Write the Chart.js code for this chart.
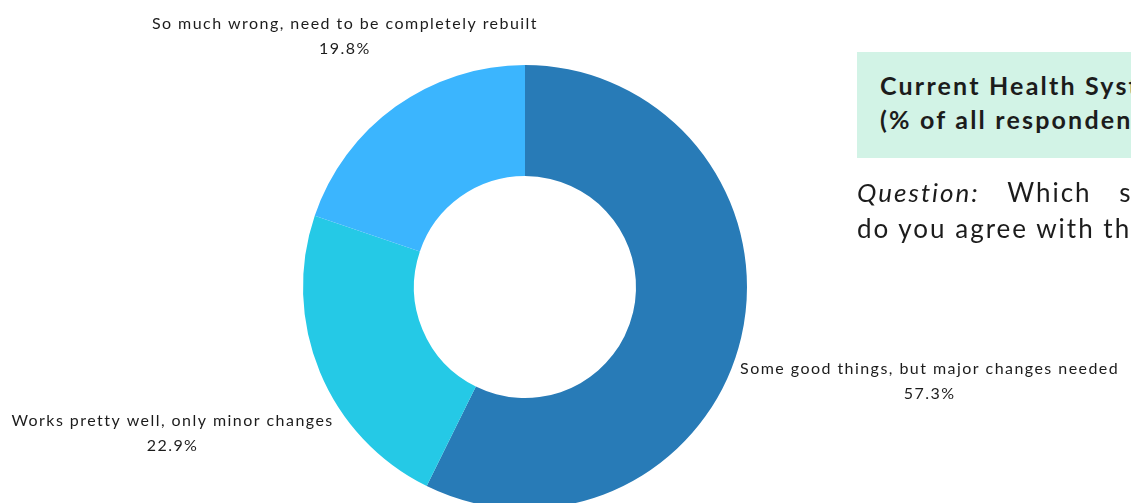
<!DOCTYPE html>
<html>
<head>
<meta charset="utf-8">
<script src="https://cdn.jsdelivr.net/npm/chart.js@4/dist/chart.umd.min.js"></script>
<style>
    html, body {
        margin: 0;
        padding: 0;
        width: 1131px;
        height: 503px;
        overflow: hidden;
        background: #fff;
        font-family: Lato, "Noto Sans", sans-serif;
        color: #1c1c1c;
    }
    .chart-wrap {
        position: absolute;
        left: 0;
        top: 0;
        width: 1131px;
        height: 560px;
    }
    .title-box {
        position: absolute;
        left: 857px;
        top: 52px;
        width: 560px;
        height: 106px;
        background: #d2f3e6;
        box-sizing: border-box;
        padding: 16px 0 0 23px;
        font-weight: bold;
        font-size: 25px;
        line-height: 34px;
        letter-spacing: 2.2px;
        white-space: nowrap;
    }
    .question {
        position: absolute;
        left: 857px;
        top: 174px;
        width: 600px;
        font-size: 26px;
        line-height: 36px;
        letter-spacing: 2px;
        white-space: nowrap;
    }
    .question .first {
        word-spacing: 19px;
    }
</style>
</head>
<body>
<div class="chart-wrap">
    <canvas id="healthChart" width="1131" height="560"></canvas>
</div>

<div class="title-box">
    Current Health System Performance<br>
    (% of all respondents)
</div>

<div class="question">
    <div class="first"><i>Question:</i> Which statement comes closest</div>
    <div>do you agree with the most?</div>
</div>

<script>
const categories = [
    'Some good things, but major changes needed',
    'Works pretty well, only minor changes',
    'So much wrong, need to be completely rebuilt'
];
const shares = [57.3, 22.9, 19.8];
const sliceColors = ['#287bb7', '#25c9e6', '#3bb5fe'];

// Labels sit outside the ring, pushed along each slice's middle angle
// until the two-line text block clears the outer edge.
const outsideLabels = {
    id: 'outsideLabels',
    afterDraw(chart) {
        const ctx = chart.ctx;
        const meta = chart.getDatasetMeta(0);
        const lineH = 25;
        const gap = 4;
        ctx.save();
        ctx.font = '16px Lato, "Noto Sans", sans-serif';
        ctx.letterSpacing = '1.45px';
        ctx.fillStyle = '#1c1c1c';
        ctx.textAlign = 'center';
        ctx.textBaseline = 'middle';
        meta.data.forEach((arc, i) => {
            const p = arc.getProps(['x', 'y', 'outerRadius', 'startAngle', 'endAngle'], true);
            const mid = (p.startAngle + p.endAngle) / 2;
            const lines = [categories[i], shares[i].toFixed(1) + '%'];
            const w = Math.max(...lines.map(l => ctx.measureText(l).width));
            const h = lineH * lines.length;
            const cos = Math.cos(mid), sin = Math.sin(mid);

            const nearest = d => {
                const cx = d * cos, cy = d * sin;
                const nx = Math.max(cx - w / 2, Math.min(0, cx + w / 2));
                const ny = Math.max(cy - h / 2, Math.min(0, cy + h / 2));
                return Math.hypot(nx, ny);
            };
            let d = p.outerRadius;
            while (nearest(d) < p.outerRadius + gap) d += 0.5;

            const bx = p.x + d * cos;
            const by = p.y + d * sin;
            lines.forEach((l, k) => {
                ctx.fillText(l, bx, by - h / 2 + lineH / 2 + k * lineH);
            });
        });
        ctx.restore();
    }
};

const healthCtx = document.getElementById('healthChart');
new Chart(healthCtx, {
    type: 'doughnut',
    data: {
        labels: categories,
        datasets: [{
            data: shares,
            backgroundColor: sliceColors,
            borderWidth: 0,
            hoverOffset: 0
        }]
    },
    options: {
        responsive: false,
        animation: false,
        cutout: '50%',
        layout: {
            padding: { left: 303, right: 384, top: 65, bottom: 51 }
        },
        plugins: {
            legend: { display: false },
            tooltip: { enabled: false }
        }
    },
    plugins: [outsideLabels]
});
</script>
</body>
</html>
